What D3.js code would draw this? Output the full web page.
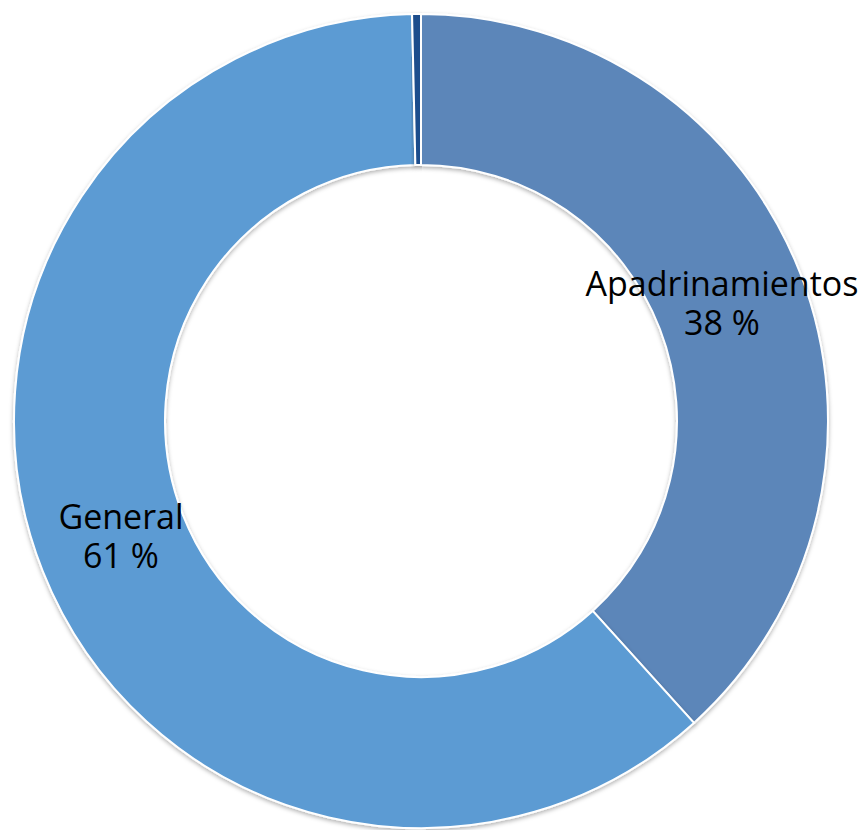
<!DOCTYPE html>
<html><head><meta charset="utf-8">
<script src="https://cdn.jsdelivr.net/npm/d3@7"></script>
<style>body{margin:0;background:#fff}svg{display:block}</style>
</head><body>
<script>
const categories = ["Apadrinamientos", "General", "Otros"];
const values = [38.3, 61.35, 0.35];
const labels = ["38 %", "61 %", null];
const colors = ["#5B86B9", "#5B9BD3", "#1F4E8C"];

const W = 868, H = 830, cx = 421, cy = 421, R = 407, r = 256;
const svg = d3.select("body").append("svg").attr("width", W).attr("height", H);
const defs = svg.append("defs");
const f = defs.append("filter").attr("id", "sh").attr("x", "-10%").attr("y", "-10%").attr("width", "120%").attr("height", "120%");
f.append("feDropShadow").attr("dx", 0).attr("dy", 2).attr("stdDeviation", 2).attr("flood-color", "#000").attr("flood-opacity", 0.3);

const pie = d3.pie().sort(null).value(d => d)(values);
const arc = d3.arc().innerRadius(r).outerRadius(R);
const g = svg.append("g").attr("transform", `translate(${cx},${cy})`);
g.selectAll("path").data(pie).join("path")
  .attr("d", arc).attr("fill", (d, i) => colors[i])
  .attr("stroke", "#fff").attr("stroke-width", 2).attr("filter", "url(#sh)");

const labelPos = [[722, 296], [121, 529]];
labelPos.forEach((p, i) => {
  const t = svg.append("text").attr("x", p[0]).attr("y", p[1]).attr("text-anchor", "middle")
    .attr("font-family", "'Open Sans', sans-serif").attr("font-size", 34).attr("fill", "#000");
  t.append("tspan").attr("x", p[0]).text(categories[i]);
  t.append("tspan").attr("x", p[0]).attr("dy", 39).text(labels[i]);
});
</script>
</body></html>
